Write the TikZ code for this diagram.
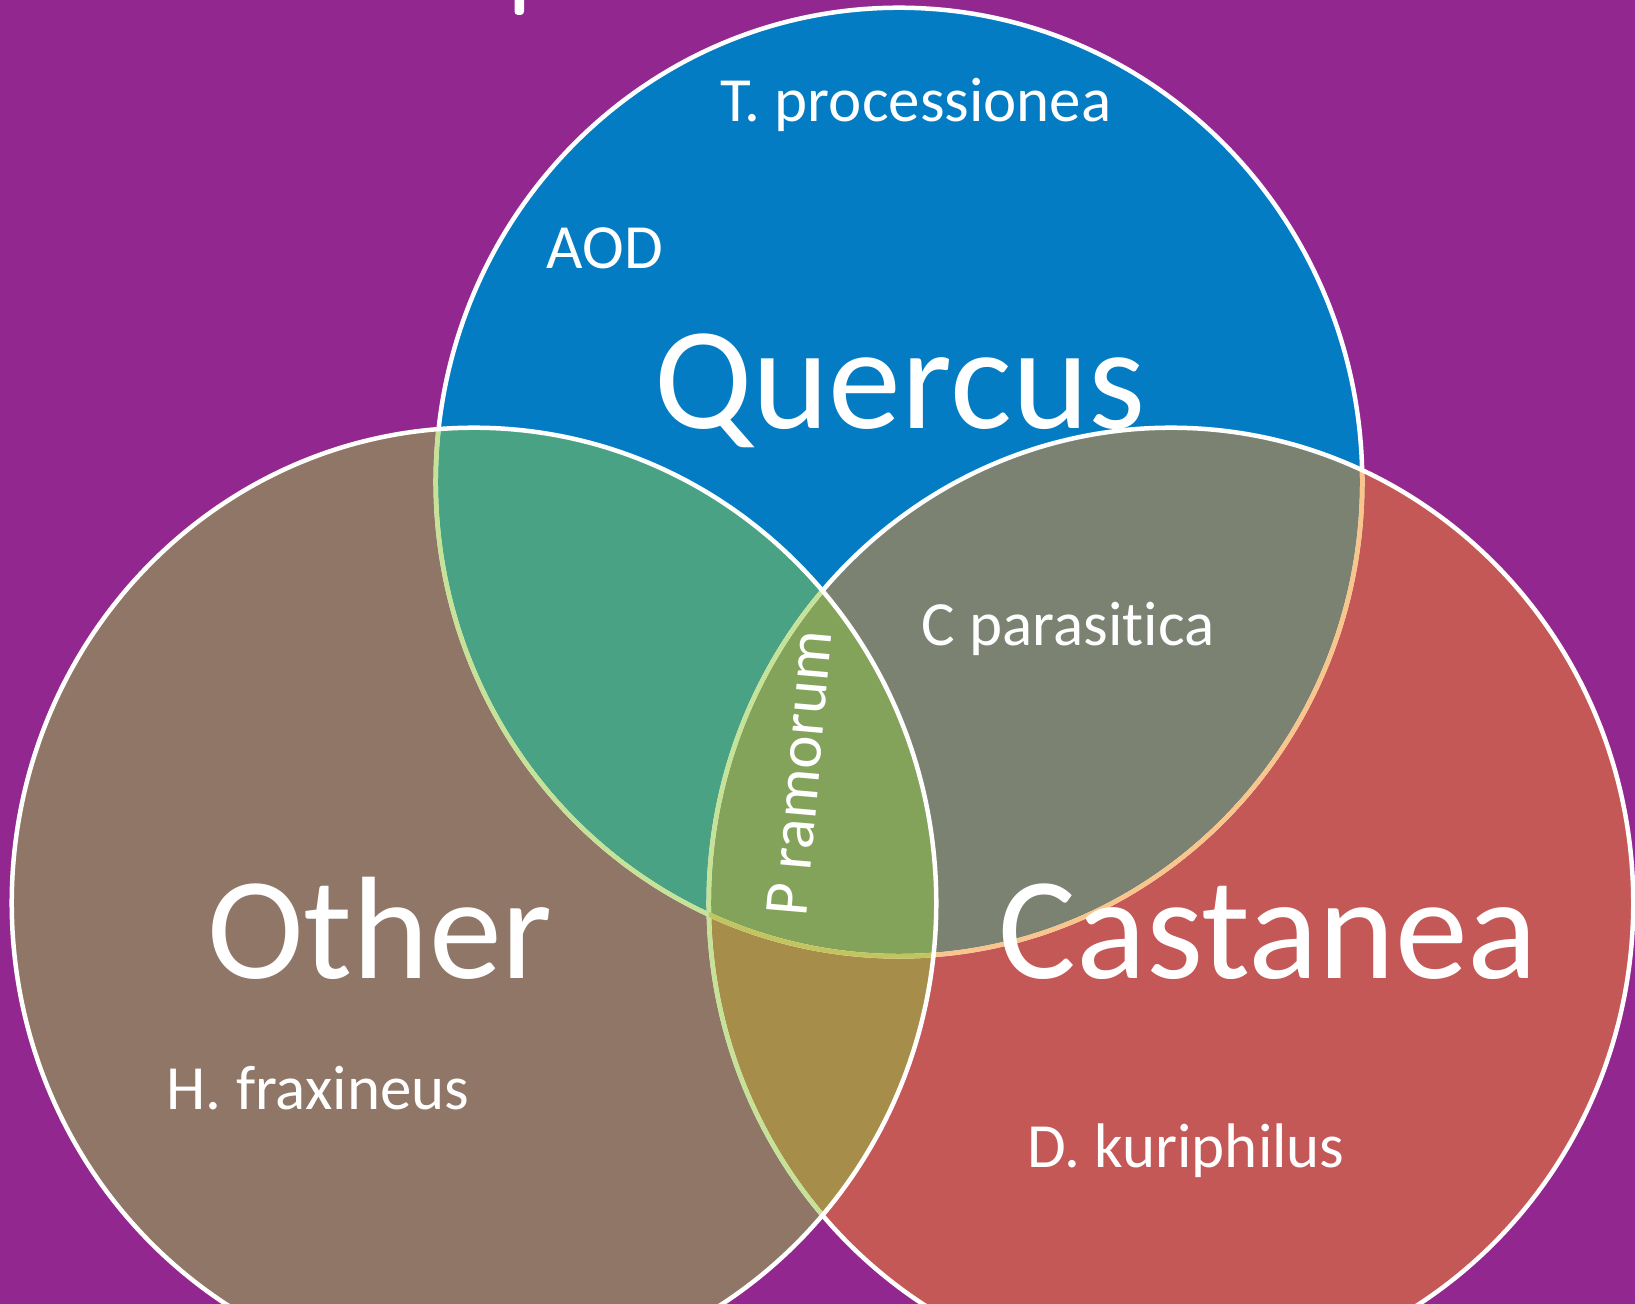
\documentclass[tikz,border=0pt]{standalone}
\usepackage{fontspec}
\setmainfont{Carlito}[Ligatures={NoCommon}]
\definecolor{bgpurple}{RGB}{146,39,143}
\definecolor{quercusblue}{RGB}{3,124,195}
\definecolor{otherbrown}{RGB}{143,118,103}
\definecolor{castaneared}{RGB}{196,88,86}
\definecolor{qoteal}{RGB}{72,162,131}
\definecolor{qcgrey}{RGB}{123,130,114}
\definecolor{ocolive}{RGB}{166,142,74}
\definecolor{qocgreen}{RGB}{131,163,90}
\definecolor{rimgreen}{RGB}{197,226,150}
\definecolor{rimolive}{RGB}{194,196,96}
\definecolor{rimorange}{RGB}{249,197,139}

\def\quercusset{(899,482) ellipse [x radius=4.63cm, y radius=4.74cm]}
\def\otherset{(474,903) ellipse [x radius=4.62cm, y radius=4.75cm]}
\def\castaneaset{(1171,903) ellipse [x radius=4.62cm, y radius=4.75cm]}

\begin{document}
\begin{tikzpicture}[x=0.01cm, y=-0.01cm,
    rim/.style={line width=0.045cm},
    bigname/.style={text=white, anchor=base, inner sep=0pt, font=\fontsize{41.5}{48}\selectfont},
    pest/.style={text=white, anchor=base, inner sep=0pt, font=\fontsize{17.9}{21}\selectfont}
]
\useasboundingbox (0,0) rectangle (1635,1304);
\clip (0,0) rectangle (1635,1304);
\fill[bgpurple] (0,0) rectangle (1635,1304);
\fill[white, rounded corners=1pt] (514.5,-5) rectangle (524,15);

% the three sets
\fill[quercusblue] \quercusset;
\fill[castaneared] \castaneaset;
\fill[otherbrown] \otherset;

% overlaps
\begin{scope}
  \clip \otherset;
  \fill[ocolive] \castaneaset;
\end{scope}
\begin{scope}
  \clip \quercusset;
  \fill[qoteal] \otherset;
  \fill[qcgrey] \castaneaset;
  \clip \otherset;
  \fill[qocgreen] \castaneaset;
\end{scope}

% outlines
\draw[rim, white] \quercusset;
\begin{scope}
  \clip \castaneaset;
  \draw[rim, rimorange] \quercusset;
\end{scope}
\draw[rim, white] \castaneaset;
\begin{scope}
  \clip \otherset;
  \draw[rim, rimgreen] \quercusset;
  \draw[rim, rimgreen] \castaneaset;
  \clip \castaneaset;
  \draw[rim, rimolive] \quercusset;
\end{scope}
\draw[rim, white] \otherset;

% labels
\node[bigname] (quercus) at (900,429) {Quercus};
\node[bigname] (other) at (380,979) {Other};
\node[bigname] (castanea) at (1268,979) {Castanea};

\node[pest] (tproc) at (916,122) {T. processionea};
\node[pest] (aod) at (605,269) {AOD};
\node[pest] (cpara) at (1068,646) {C parasitica};
\node[pest] (hfrax) at (318,1110) {H. fraxineus};
\node[pest] (dkuri) at (1186,1168) {D. kuriphilus};
\node[pest, rotate=85] (pram) at (819,775) {P ramorum};

\end{tikzpicture}
\end{document}
